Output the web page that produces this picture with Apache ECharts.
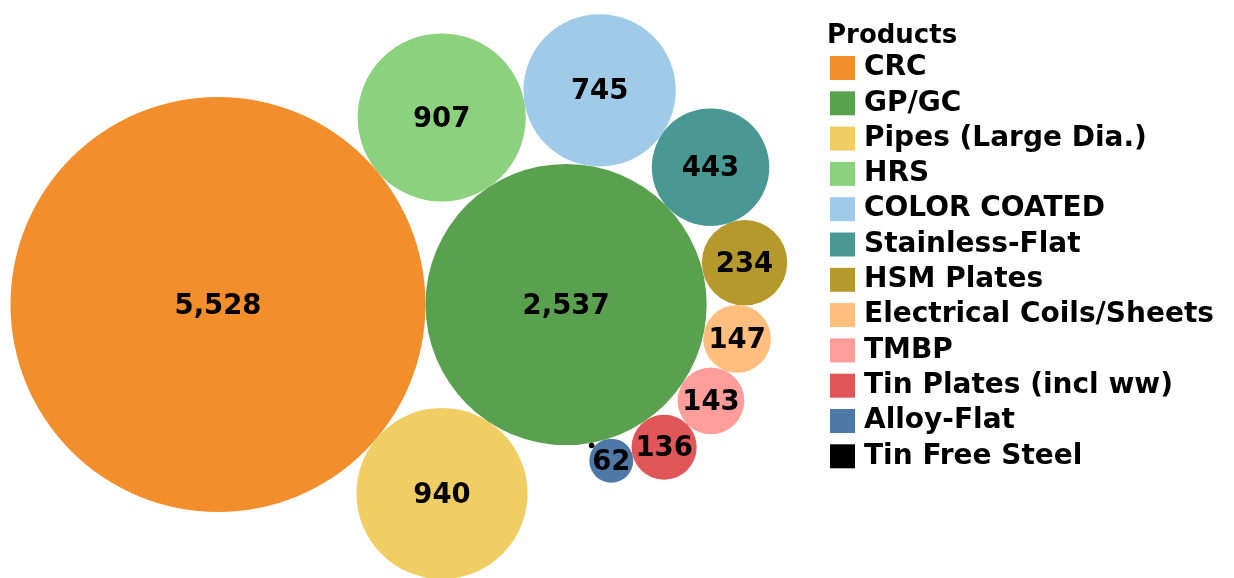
<!DOCTYPE html>
<html>
<head>
<meta charset="utf-8">
<title>Products</title>
<script src="https://cdn.jsdelivr.net/npm/echarts@6/dist/echarts.min.js"></script>
<style>
  html, body { margin: 0; padding: 0; background: #fff; }
  #chart { width: 1234px; height: 578px; }
</style>
</head>
<body>
<div id="chart"></div>
<script>
// Product volumes, largest first
const products = [
  'CRC', 'GP/GC', 'Pipes (Large Dia.)', 'HRS', 'COLOR COATED', 'Stainless-Flat',
  'HSM Plates', 'Electrical Coils/Sheets', 'TMBP', 'Tin Plates (incl ww)',
  'Alloy-Flat', 'Tin Free Steel'
];
const volumes = [5528, 2537, 940, 907, 745, 443, 234, 147, 143, 136, 62, 1];
const colors = [
  '#f28e2b', '#59a14f', '#f1ce63', '#8cd17d', '#a0cbe8', '#499894',
  '#b6992d', '#ffbe7d', '#ff9d9a', '#e15759', '#4e79a7', '#000000'
];

const FONT = '"DejaVu Sans", Verdana, sans-serif';
const K = 2.791;                     // px of radius per sqrt(unit)
const radius = v => K * Math.sqrt(v);

// Circle of radius r tangent to circles p and q, on one side of p -> q
function tangent(p, q, r, side) {
  const dx = q.x - p.x, dy = q.y - p.y, d = Math.hypot(dx, dy);
  const a = p.r + r, b = q.r + r;
  const t = (d * d + a * a - b * b) / (2 * d);
  const h = Math.sqrt(Math.max(0, a * a - t * t));
  const ux = dx / d, uy = dy / d;
  return { x: p.x + t * ux - side * h * uy, y: p.y + t * uy + side * h * ux, r: r };
}

// Packed layout: largest at origin, second to its right (the hub),
// third below and fourth above both, the rest wrap clockwise round the hub.
function pack(values) {
  const c = [];
  values.forEach((v, i) => {
    const r = radius(v);
    if (i === 0) c.push({ x: 0, y: 0, r: r });
    else if (i === 1) c.push({ x: c[0].r + r, y: 0, r: r });
    else if (i === 2) c.push(tangent(c[0], c[1], r, 1));
    else if (i === 3) c.push(tangent(c[0], c[1], r, -1));
    else c.push(tangent(c[i - 1], c[1], r, -1));
  });
  return c;
}

const circles = pack(volumes);

// Plot space is 1:1 with pixels; origin sits on the largest bubble's centre
const ORIGIN_X = 218, ORIGIN_Y = 304.5, W = 1234, H = 578;

const series = products.map((name, i) => ({
  name: name,
  type: 'scatter',
  data: [[circles[i].x, circles[i].y, volumes[i]]],
  symbol: 'circle',
  symbolSize: d => 2 * radius(d[2]),
  itemStyle: { color: colors[i], opacity: 1 },
  label: {
    show: radius(volumes[i]) > 12,
    position: 'inside',
    offset: [0, 2],
    formatter: p => p.value[2].toLocaleString('en-US'),
    color: '#000',
    fontFamily: FONT,
    fontWeight: 'bold',
    fontSize: 27.5
  },
  emphasis: { disabled: true },
  silent: true
}));

const chart = echarts.init(document.getElementById('chart'), null, { renderer: 'canvas' });
chart.setOption({
  animation: false,
  backgroundColor: '#fff',
  title: {
    text: 'Products',
    left: 827,
    top: 23,
    padding: 0,
    textStyle: { fontFamily: FONT, fontWeight: 'bold', fontSize: 26, color: '#000' }
  },
  legend: {
    data: products,
    orient: 'vertical',
    left: 830,
    top: 54,
    padding: 0,
    icon: 'rect',
    itemWidth: 25,
    itemHeight: 24,
    itemGap: 7.3,
    selectedMode: false,
    textStyle: {
      fontFamily: FONT, fontWeight: 'bold', fontSize: 28, color: '#000',
      padding: [0, 0, 0, 4]
    }
  },
  grid: { left: 0, top: 0, width: W, height: H, containLabel: false },
  xAxis: { type: 'value', min: -ORIGIN_X, max: W - ORIGIN_X, show: false },
  yAxis: { type: 'value', inverse: true, min: -ORIGIN_Y, max: H - ORIGIN_Y, show: false },
  series: series
});
</script>
</body>
</html>
